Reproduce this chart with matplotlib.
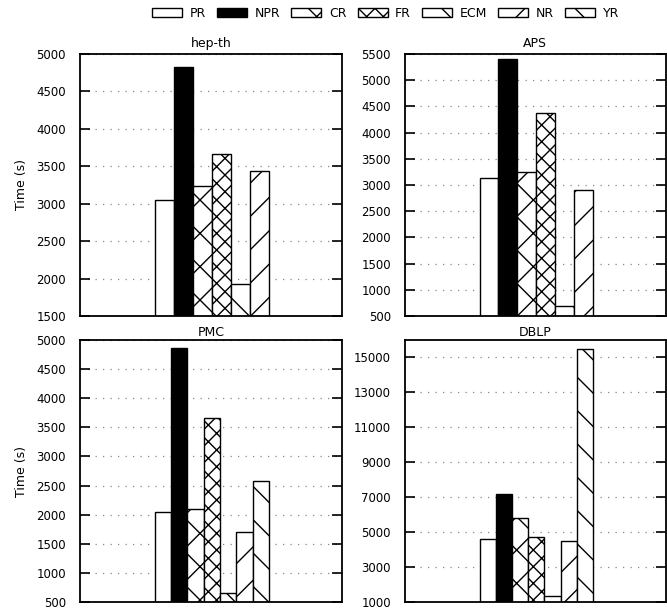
import numpy as np
import matplotlib
matplotlib.use('Agg')
import matplotlib.pyplot as plt

plt.rcParams['font.family'] = 'DejaVu Sans'
plt.rcParams['font.size'] = 8.5
plt.rcParams['hatch.linewidth'] = 1.0

# Methods and their fill styles
methods = ['PR', 'NPR', 'CR', 'FR', 'ECM', 'NR', 'YR']
fills = ['white', 'black', 'white', 'white', 'white', 'white', 'white']
hatches = ['', '', 'x', 'xx', '\\', '/', '\\']

# Running time (s) per dataset (YR did not finish on hep-th and APS)
hepth = [3050, 4820, 3240, 3665, 1930, 3435]
aps = [3140, 5405, 3255, 4370, 690, 2900]
pmc = [2050, 4860, 2100, 3665, 650, 1700, 2585]
dblp = [4590, 7170, 5830, 4720, 1360, 4495, 15470]

datasets = ['hep-th', 'APS', 'PMC', 'DBLP']
values = [hepth, aps, pmc, dblp]
ylims = [(1500, 5000), (500, 5500), (500, 5000), (1000, 16000)]
yticks = [np.arange(1500, 5001, 500), np.arange(500, 5501, 500),
          np.arange(500, 5001, 500), np.arange(1000, 15001, 2000)]

fig = plt.figure(figsize=(6.67, 6.10), dpi=100)
rects = [[0.1199, 0.482, 0.3928, 0.4295], [0.6072, 0.482, 0.391, 0.4295],
         [0.1199, 0.0131, 0.3928, 0.4295], [0.6072, 0.0131, 0.391, 0.4295]]

handles = None
for k in range(4):
    ax = fig.add_axes(rects[k])
    vals = values[k]
    n = len(vals)
    w = 0.435 / n
    bars = []
    for i in range(n):
        b = ax.bar(0.286 + i * w, vals[i], width=w, bottom=0, align='edge',
                   color=fills[i], edgecolor='black', linewidth=1.0,
                   hatch=hatches[i], label=methods[i], zorder=2)
        bars.append(b)
    if n == 7:
        handles = bars
    ax.set_xlim(0, 1)
    ax.set_ylim(*ylims[k])
    ax.set_yticks(yticks[k])
    ax.set_xticks([])
    ax.tick_params(axis='y', direction='in', length=7, width=1.2, pad=10,
                   right=True, left=True)
    ax.yaxis.grid(True, linestyle=(0, (1, 5)), color='#888888', linewidth=0.9, zorder=0)
    ax.set_axisbelow(True)
    for s in ax.spines.values():
        s.set_linewidth(1.3)
    ax.set_title(datasets[k], fontsize=9, pad=5 if k < 2 else 3)
    if k % 2 == 0:
        ax.set_ylabel('Time (s)', fontsize=9, labelpad=6)

fig.legend(handles, methods, ncol=7, loc='center', bbox_to_anchor=(0.578, 0.978),
           frameon=False, handlelength=2.4, handleheight=0.7, handletextpad=0.6,
           columnspacing=0.9, fontsize=9)

plt.savefig('out.png', dpi=100)
